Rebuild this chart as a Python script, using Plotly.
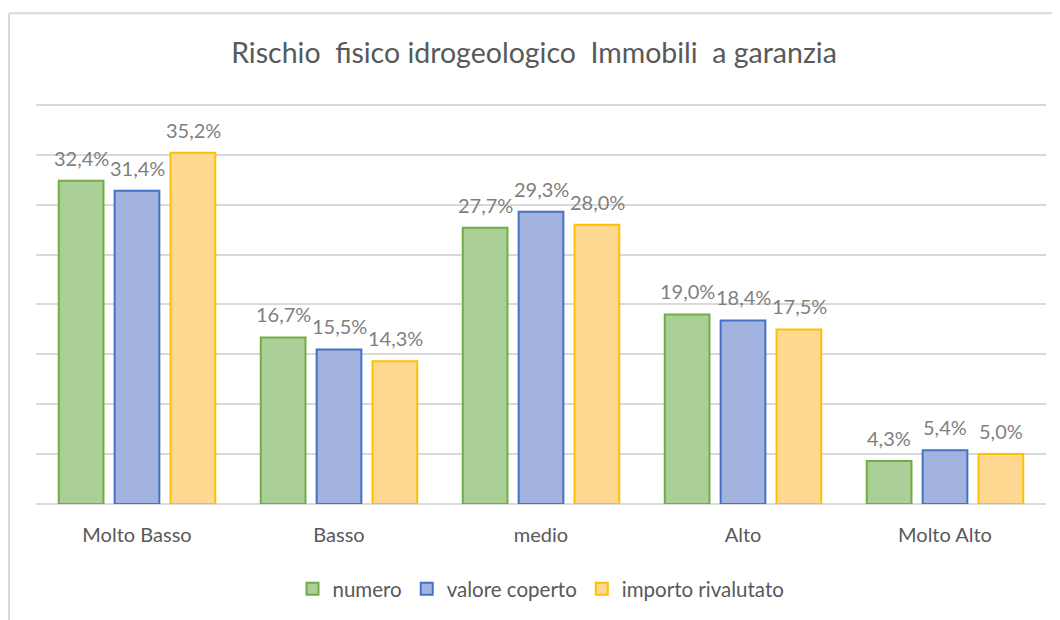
import plotly.graph_objects as go

categories = ["Molto Basso", "Basso", "medio", "Alto", "Molto Alto"]
numero = [32.4, 16.7, 27.7, 19.0, 4.3]
valore_coperto = [31.4, 15.5, 29.3, 18.4, 5.4]
importo_rivalutato = [35.2, 14.3, 28.0, 17.5, 5.0]

series = [
    ("numero", numero, "#abd097", "#70ad47"),
    ("valore coperto", valore_coperto, "#a2b3df", "#4472c4"),
    ("importo rivalutato", importo_rivalutato, "#ffd891", "#ffc000"),
]

def fmt(v):
    return f"{v:.1f}%".replace(".", ",")

# page has an 8px body margin; work in reference pixels and convert
OFF = 8
W, H = 1052, 612
YMAX = 40.5
PL, PR, PB = 36, 1046, 505  # plot area in reference pixels
PT = PB - 10 * YMAX          # 10 px per percentage point
L = PL - OFF
T = PT - OFF
R = W - (PR - OFF)
B = H - (PB - OFF)
pw, ph = PR - PL, PB - PT

def px_x(x):
    return (x - PL) / pw

def px_y(y):
    return (PB - y) / ph

FONT = "Lato"

fig = go.Figure()
annotations = []
slot = 56  # pixel offset between bars in a group
for i, (name, vals, fill, line) in enumerate(series):
    fig.add_trace(go.Bar(
        x=categories, y=vals, name=name,
        marker=dict(color=fill, line=dict(color=line, width=2)),
        cliponaxis=False,
    ))
    for c, v in zip(categories, vals):
        annotations.append(dict(
            x=c, y=v, xref="x", yref="y", text=fmt(v), showarrow=False,
            xshift=(i - 1) * slot, yshift=23, yanchor="middle",
            font=dict(size=20, color="#7f7f7f", family=FONT),
        ))

fig.update_layout(
    width=W, height=H,
    margin=dict(l=L, r=R, t=T, b=B),
    paper_bgcolor="white", plot_bgcolor="white",
    barmode="group", bargap=0.17, bargroupgap=0.2,
    title=dict(text="Rischio  fisico idrogeologico  Immobili  a garanzia",
               x=0.5, xanchor="center", y=1 - (53 - OFF) / H, yanchor="middle",
               font=dict(size=28.5, color="#595959", family=FONT)),
    font=dict(family=FONT, color="#595959"),
    yaxis=dict(range=[0, YMAX], tickvals=[0, 5, 10, 15, 20, 25, 30, 35, 40],
               showticklabels=False,
               gridcolor="#d9d9d9", gridwidth=2, zeroline=True,
               zerolinecolor="#d9d9d9", zerolinewidth=2, fixedrange=True),
    xaxis=dict(tickfont=dict(size=20, color="#595959"), ticks="outside",
               ticklen=13, tickcolor="rgba(0,0,0,0)",
               showline=False, showgrid=False),
    legend=dict(orientation="h", x=0.5, xanchor="center",
                y=px_y(589), yanchor="middle",
                font=dict(size=20.5, color="#595959"),
                itemwidth=30, traceorder="normal"),
    showlegend=True,
    annotations=annotations,
    shapes=[
        dict(type="line", xref="paper", yref="paper",
             x0=px_x(9), x1=px_x(9), y0=px_y(13), y1=px_y(625),
             line=dict(color="#d9d9d9", width=2)),
        dict(type="line", xref="paper", yref="paper",
             x0=px_x(9), x1=px_x(1065), y0=px_y(13), y1=px_y(13),
             line=dict(color="#d9d9d9", width=2)),
    ],
)

fig.write_html("out.html")
